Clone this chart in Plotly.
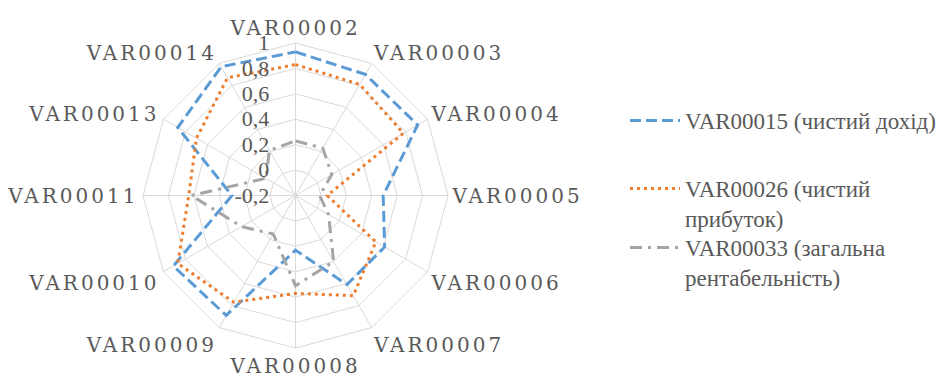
import plotly.graph_objects as go

# Radar categories (clockwise from the top)
categories = ["VAR00002", "VAR00003", "VAR00004", "VAR00005", "VAR00006", "VAR00007",
              "VAR00008", "VAR00009", "VAR00010", "VAR00011", "VAR00013", "VAR00014"]

# Series values
net_income = [0.93, 0.90, 0.91, 0.49, 0.61, 0.61, 0.23, 0.89, 0.91, 0.30, 0.87, 0.97]
net_profit = [0.83, 0.81, 0.78, 0.05, 0.53, 0.71, 0.57, 0.77, 0.87, 0.64, 0.70, 0.87]
profitability = [0.23, 0.23, 0.13, -0.01, 0.10, 0.40, 0.51, 0.15, 0.29, 0.62, 0.07, 0.21]

series_names = ["VAR00015 (чистий дохід)",
                "VAR00026 (чистий<br>прибуток)",
                "VAR00033 (загальна<br>рентабельність)"]

# Radial axis ticks
radial_ticks = [-0.2, 0, 0.2, 0.4, 0.6, 0.8, 1]
radial_ticktext = [f"{v:g}".replace(".", ",") for v in radial_ticks]

TEXT = "#595959"
GRID = "#d9d9d9"
SERIF = "Liberation Serif"

W, H = 949, 380
cx, cy, R = 295.5, 195.5, 152.5  # polar centre and radius in pixels


def closed(vals):
    return list(vals) + [vals[0]]


fig = go.Figure()
styles = [
    ("#5B9BD5", "11px,5px", "legend"),
    ("#ED7D31", "3px,4px", "legend2"),
    ("#A5A5A5", "12px,6px,3px,6px", "legend3"),
]
for vals, name, (color, dash, leg) in zip([net_income, net_profit, profitability], series_names, styles):
    fig.add_trace(go.Scatterpolar(
        r=closed(vals), theta=closed(categories), mode="lines", name=name,
        line=dict(color=color, width=3, dash=dash), legend=leg, showlegend=True,
    ))

spaced = [f'<span style="letter-spacing:3px">{c}</span>' for c in categories]

legend_common = dict(xanchor="left", yanchor="top", font=dict(family=SERIF, size=23, color=TEXT),
                     bgcolor="rgba(0,0,0,0)", itemwidth=50, valign="top", visible=True)

fig.update_layout(
    template="none",
    width=W, height=H,
    margin=dict(l=0, r=0, t=0, b=0),
    paper_bgcolor="white",
    separators=", ",
    showlegend=True,
    font=dict(family=SERIF, color=TEXT),
    polar=dict(
        domain=dict(x=[(cx - R) / W, (cx + R) / W], y=[(H - cy - R) / H, (H - cy + R) / H]),
        gridshape="linear",
        bgcolor="white",
        radialaxis=dict(
            range=[-0.2, 1], tickmode="array", tickvals=radial_ticks, ticktext=radial_ticktext,
            angle=90, side="counterclockwise", showline=False, gridcolor=GRID, gridwidth=1,
            ticks="outside", ticklen=18, tickcolor="rgba(0,0,0,0)",
            tickfont=dict(family=SERIF, size=22, color=TEXT), tickangle=90,
        ),
        angularaxis=dict(
            direction="clockwise", rotation=90, tickmode="array", tickvals=categories, ticktext=spaced,
            linecolor=GRID, linewidth=1, gridcolor=GRID, gridwidth=1, ticks="",
            tickfont=dict(family="DejaVu Serif", size=20, color=TEXT),
        ),
    ),
    legend=dict(x=625 / W, y=1 - 99 / H, **legend_common),
    legend2=dict(x=625 / W, y=1 - 167 / H, **legend_common),
    legend3=dict(x=625 / W, y=1 - 226 / H, **legend_common),
)

fig.write_html("out.html")
